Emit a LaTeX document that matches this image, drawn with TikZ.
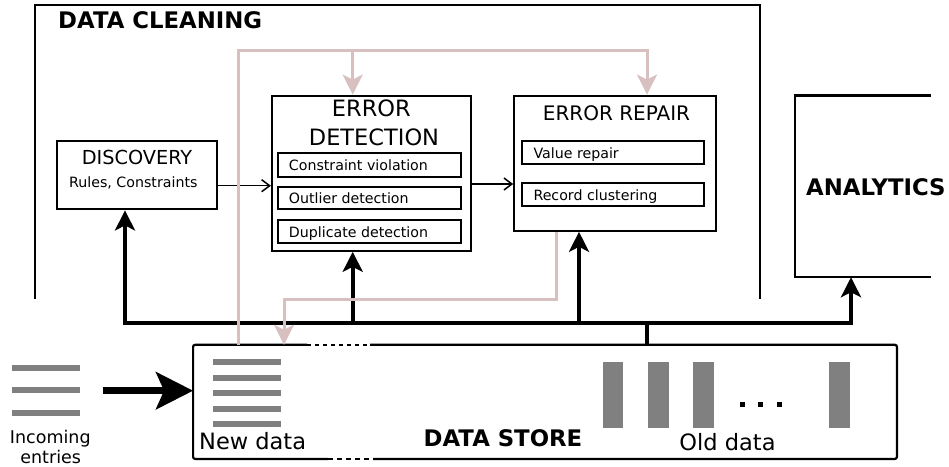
\documentclass[tikz,border=0pt]{standalone}
\usepackage{fontspec}
\setmainfont{DejaVu Sans}
\usetikzlibrary{arrows.meta}
\definecolor{flowpink}{RGB}{216,192,192}
\definecolor{bargray}{RGB}{128,128,128}

\begin{document}
\begin{tikzpicture}[x=1pt,y=-1pt,
  box/.style={draw,line width=2.2pt,inner sep=0pt},
  hollow/.style={inner sep=0pt},
  bigbold/.style={font=\fontsize{22.8}{26}\selectfont\bfseries,inner sep=0pt},
  titletext/.style={font=\fontsize{20}{24}\selectfont,inner sep=0pt},
  bigtitle/.style={font=\fontsize{22.5}{26}\selectfont,inner sep=0pt},
  smalltext/.style={font=\fontsize{14.2}{17}\selectfont,inner sep=0pt},
  labeltext/.style={font=\fontsize{22.5}{26}\selectfont,inner sep=0pt},
  bus/.style={line width=4pt},
  bustip/.style={-{Stealth[length=20pt,width=20pt,inset=5pt]}},
  flow/.style={draw=flowpink,line width=3pt,-{Stealth[length=20pt,width=20pt,inset=5pt,color=flowpink]}},
  thinarrow/.style={line width=1.5pt,-{Straight Barb[length=8pt,width=12pt]}},
  frameline/.style={line width=2.2pt},
]
\useasboundingbox (0,0) rectangle (949,466);

% ---- DATA CLEANING frame (open at the bottom)
\coordinate (fbl) at (35,299);
\coordinate (ftl) at (35,5);
\coordinate (ftr) at (760,5);
\coordinate (fbr) at (760,299);
\draw[frameline] (fbl) -- (ftl) -- (ftr) -- (fbr);
\node[bigbold,anchor=base west] (dctitle) at (58,28) {DATA CLEANING};

% ---- DISCOVERY
\node[box,minimum width=159.4pt,minimum height=68.6pt] (disc) at (137,175) {};
\node[titletext,font=\fontsize{19.3}{23}\selectfont,anchor=base] (disct) at (137,164) {DISCOVERY};
\node[smalltext,anchor=base] (discs) at (133.3,187.5) {Rules, Constraints};

% ---- ERROR DETECTION
\node[box,minimum width=198.7pt,minimum height=155pt] (de) at (371.35,173.2) {};
\node[bigtitle,anchor=base] (det1) at (371.3,116) {ERROR};
\node[bigtitle,anchor=base] (det2) at (374,145) {DETECTION};
\node[box,minimum width=182.7pt,minimum height=23.7pt] (cv) at (369.35,164.85) {};
\node[box,minimum width=182.7pt,minimum height=22.3pt] (od) at (369.35,197.85) {};
\node[box,minimum width=182.7pt,minimum height=23.3pt] (dd) at (369.35,231.65) {};
\node[smalltext,anchor=base west] at (288.7,170.7) {Constraint violation};
\node[smalltext,anchor=base west] at (288.7,203.3) {Outlier detection};
\node[smalltext,anchor=base west] at (288.7,237.3) {Duplicate detection};

% ---- ERROR REPAIR
\node[box,minimum width=201.4pt,minimum height=135pt] (er) at (615,163.2) {};
\node[titletext,anchor=base] (ert) at (616.5,120.7) {ERROR REPAIR};
\node[box,minimum width=182.6pt,minimum height=23.3pt] (vr) at (613,152.65) {};
\node[box,minimum width=182.6pt,minimum height=23.3pt] (rc) at (613,194.35) {};
\node[smalltext,anchor=base west] at (533.3,158) {Value repair};
\node[smalltext,anchor=base west] at (533.3,200) {Record clustering};

% ---- ANALYTICS (open on the right)
\node[hollow,minimum width=135.7pt,minimum height=181.3pt] (an) at (862.85,186.35) {};
\draw[frameline] (an.north east) -- (an.north west) -- (an.south west) -- (an.south east);
\node[bigbold,anchor=base west] (ant) at (806,195) {ANALYTICS};

% ---- thin arrows between stages
\draw[thinarrow] (disc.east |- 0,185.7) -- (de.west |- 0,185.7);
\draw[thinarrow] (de.east |- 0,184) -- (er.west |- 0,184);

% ---- DATA STORE
\node[hollow,minimum width=703.4pt,minimum height=113.7pt] (ds) at (545,401.85) {};
\draw[line width=2.2pt,rounded corners=2pt]
  (307,0 |- ds.north) -- (ds.north west) -- (ds.south west) -- (328,0 |- ds.south);
\draw[line width=2.2pt,rounded corners=2pt]
  (373,0 |- ds.south) -- (ds.south east) -- (ds.north east) -- (370,0 |- ds.north);
\draw[line width=2.2pt,dash pattern=on 4pt off 4pt] (307,0 |- ds.north) -- (370,0 |- ds.north);
\draw[line width=2.2pt,dash pattern=on 4.5pt off 4.5pt] (328,0 |- ds.south) -- (373,0 |- ds.south);
\node[bigbold,anchor=base] (dst) at (503,446) {DATA STORE};

% new data
\foreach \yy in {362,377.6,393.2,408.8,424.4}
  \fill[bargray] (213,\yy-3) rectangle (281,\yy+3);
\node[labeltext,anchor=base west] (newd) at (199,449.3) {New data};

% old data
\foreach \xx in {602.7,648.3,693.3,829.3}
  \fill[bargray] (\xx,362.3) rectangle (\xx+20.7,427.7);
\foreach \xx in {742,760.5,779}
  \fill (\xx-2.5,401.5) rectangle (\xx+2.5,406.5);
\node[labeltext,anchor=base] (oldd) at (727.5,450.3) {Old data};

% incoming entries
\foreach \yy in {368,390.3,413}
  \fill[bargray] (12.3,\yy-3) rectangle (80,\yy+3);
\node[font=\fontsize{17.5}{21}\selectfont,inner sep=0pt,anchor=base] (inc1) at (50.3,443) {Incoming};
\node[font=\fontsize{17.5}{21}\selectfont,inner sep=0pt,anchor=base] (inc2) at (50.7,463) {entries};
\coordinate (incstart) at (103,390.7);
\draw[line width=7pt,-{Stealth[length=37pt,width=37pt,inset=8pt]}] (incstart) -- (ds.west |- incstart);

% ---- black distribution bus
\coordinate (busL) at (125,323.3);
\coordinate (busR) at (851,323.3);
\draw[bus,bustip] (busR) -- (busL) -- (busL |- disc.south);
\draw[bus,bustip] (busL) -- (busR) -- (busR |- an.south);
\draw[bus,bustip] (352.7,0 |- busL) -- (352.7,0 |- de.south);
\draw[bus,bustip] (579,0 |- busL) -- (579,0 |- er.south);
\draw[bus] (646.7,0 |- busL) -- (646.7,0 |- ds.north);

% ---- pink feedback flows
\coordinate (ptop) at (238,50);
\draw[flow] (238,0 |- ds.north) -- (ptop) -| (647,0 |- er.north);
\draw[flow] (352.7,0 |- ptop) -- (352.7,0 |- de.north);
\coordinate (pmid) at (556,299);
\draw[flow] (556,0 |- er.south) -- (pmid) -| (284,0 |- ds.north);
\end{tikzpicture}
\end{document}
